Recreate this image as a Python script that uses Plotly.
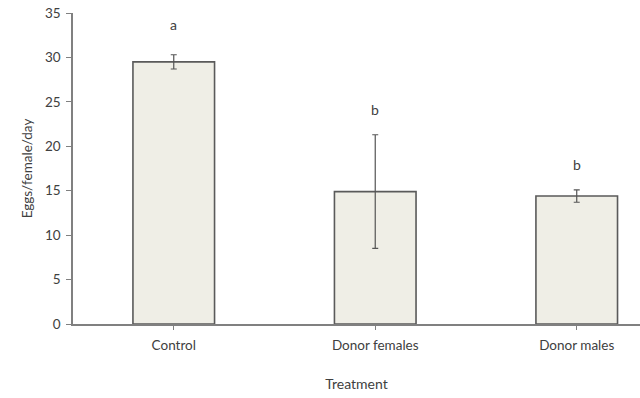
import plotly.graph_objects as go

categories = ["Control", "Donor females", "Donor males"]
means = [29.5, 14.9, 14.4]
errors = [0.8, 6.4, 0.7]
letters = ["a", "b", "b"]
letter_y = [33.7, 24.1, 17.9]
y_ticks = [0, 5, 10, 15, 20, 25, 30, 35]

FONT = "Lato, Liberation Sans, sans-serif"
TXT = "#404040"

fig = go.Figure()
fig.add_trace(go.Bar(
    x=list(range(len(categories))),
    y=means,
    width=0.405,
    marker=dict(color="#EFEEE6", line=dict(color="#5a5a5a", width=1.6)),
    error_y=dict(type="data", array=errors, visible=True,
                 color="#555555", thickness=1.2, width=3),
    showlegend=False,
))

for i, (t, yy) in enumerate(zip(letters, letter_y)):
    fig.add_annotation(x=i, y=yy, text=t, showarrow=False,
                       font=dict(family=FONT, size=14, color=TXT))

fig.update_layout(
    width=640, height=398,
    margin=dict(l=73, r=0, t=13, b=74, autoexpand=False),
    paper_bgcolor="white", plot_bgcolor="white",
    font=dict(family=FONT, size=13, color=TXT),
    xaxis=dict(
        range=[-0.5, 2.314], automargin=False,
        tickmode="array", tickvals=list(range(len(categories))), ticktext=categories,
        tickson="boundaries", ticks="outside", ticklen=4, tickcolor="#808080",
        ticklabelstandoff=4,
        showline=True, linecolor="#808080", linewidth=1.5,
        showgrid=False, zeroline=False,
        title=dict(text="Treatment", font=dict(size=14, color=TXT), standoff=27),
        tickfont=dict(size=13.5, color=TXT),
    ),
    yaxis=dict(
        range=[0, 35], automargin=False,
        tickmode="array", tickvals=y_ticks,
        ticks="outside", ticklen=5, tickcolor="#808080",
        ticklabelstandoff=3,
        showline=True, linecolor="#808080", linewidth=1.5,
        showgrid=False, zeroline=False,
        title=dict(text="Eggs/female/day", font=dict(size=13.5, color=TXT), standoff=9),
        tickfont=dict(size=13.5, color=TXT),
    ),
)

fig.write_html(
    "out.html",
    config={"displayModeBar": False},
    post_script="document.body.style.margin='0';document.body.style.overflow='hidden';",
)
